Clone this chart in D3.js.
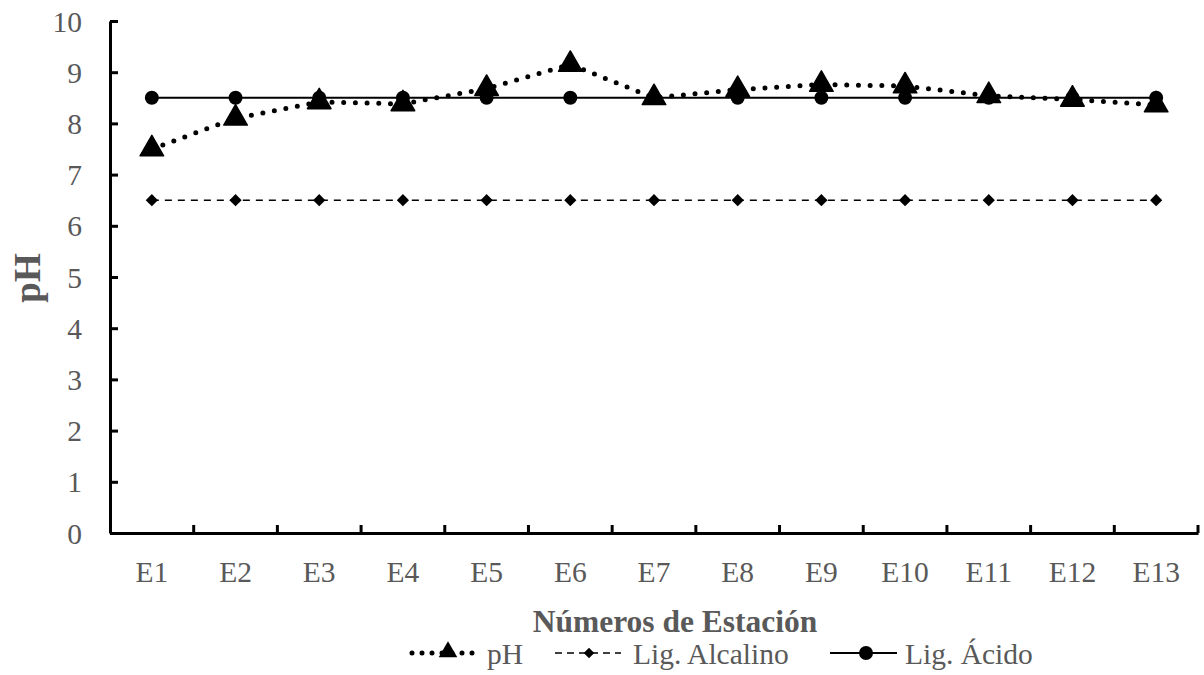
<!DOCTYPE html>
<html><head><meta charset="utf-8">
<script src="https://cdn.jsdelivr.net/npm/d3@7"></script>
<style>body{margin:0;background:#fff}svg{display:block}</style>
</head><body>
<svg id="c" width="1204" height="675"></svg>
<script>
const categories = ["E1","E2","E3","E4","E5","E6","E7","E8","E9","E10","E11","E12","E13"];
const phValues = [7.5, 8.1, 8.42, 8.38, 8.68, 9.15, 8.5, 8.66, 8.76, 8.73, 8.54, 8.47, 8.36];
const alcalinoValues = [6.5,6.5,6.5,6.5,6.5,6.5,6.5,6.5,6.5,6.5,6.5,6.5,6.5];
const acidoValues = [8.5,8.5,8.5,8.5,8.5,8.5,8.5,8.5,8.5,8.5,8.5,8.5,8.5];
const yTicks = [0,1,2,3,4,5,6,7,8,9,10];
const seriesNames = ["pH","Lig. Alcalino","Lig. Ácido"];
const xTitle = "Números de Estación";
const yTitle = "pH";

const svg = d3.select("#c");
const FONT = "'Liberation Serif','Times New Roman',serif";
const TXT = "#595959";
const L = 110, R = 1198, T = 21, B = 533;
const x = d3.scaleBand().domain(categories).range([L, R]).padding(0);
const y = d3.scaleLinear().domain([0, 10]).range([B, T]);
const cx = c => x(c) + x.bandwidth() / 2;

// Y axis
const ya = svg.append("g").attr("transform", `translate(${L},0)`)
  .call(d3.axisLeft(y).tickValues(yTicks).tickSizeInner(-8).tickSizeOuter(0).tickPadding(28).tickFormat(d3.format("d")));
ya.select(".domain").attr("stroke", "#000").attr("stroke-width", 3);
ya.selectAll(".tick line").attr("stroke", "#000").attr("stroke-width", 3);
ya.selectAll(".tick text").attr("font-family", FONT).attr("font-size", 29.5).attr("fill", TXT).attr("dy", "0.34em");

// X axis
const xa = svg.append("g").attr("transform", `translate(0,${B})`)
  .call(d3.axisBottom(x).tickSize(0).tickPadding(0));
xa.select(".domain").attr("stroke", "#000").attr("stroke-width", 3);
xa.selectAll(".tick text").attr("font-family", FONT).attr("font-size", 29.5).attr("fill", TXT)
  .attr("y", 49).attr("dy", 0);
const bounds = categories.slice(1).map(c => x(c)).concat([R]);
xa.selectAll(".btick").data(bounds).join("line").attr("class", "btick")
  .attr("x1", d => d).attr("x2", d => d).attr("y1", 0).attr("y2", -8)
  .attr("stroke", "#000").attr("stroke-width", 3);

// Titles
svg.append("text").attr("x", 675).attr("y", 632).attr("text-anchor", "middle")
  .attr("font-family", FONT).attr("font-weight", "bold").attr("font-size", 31.5).attr("fill", TXT).text(xTitle);
svg.append("text").attr("transform", "translate(40,278) rotate(-90)").attr("text-anchor", "middle")
  .attr("font-family", FONT).attr("font-weight", "bold").attr("font-size", 37).attr("fill", TXT).text(yTitle);

const line = d3.line().x((d, i) => cx(categories[i])).y(d => y(d));

// Lig. Alcalino
svg.append("path").datum(alcalinoValues).attr("d", line).attr("fill", "none")
  .attr("stroke", "#000").attr("stroke-width", 1.5).attr("stroke-dasharray", "7 6");
svg.selectAll(".dia").data(alcalinoValues).join("path").attr("class", "dia")
  .attr("transform", (d, i) => `translate(${cx(categories[i])},${y(d)})`)
  .attr("d", d3.symbol(d3.symbolDiamond2, 95)).attr("fill", "#000");

// Lig. Acido
svg.append("path").datum(acidoValues).attr("d", line).attr("fill", "none")
  .attr("stroke", "#000").attr("stroke-width", 2);
svg.selectAll(".cir").data(acidoValues).join("circle").attr("class", "cir")
  .attr("cx", (d, i) => cx(categories[i])).attr("cy", d => y(d)).attr("r", 7).attr("fill", "#000");

// pH
svg.append("path").datum(phValues).attr("d", line).attr("fill", "none")
  .attr("stroke", "#000").attr("stroke-width", 5).attr("stroke-linecap", "round").attr("stroke-dasharray", "0 11.7");
svg.selectAll(".tri").data(phValues).join("path").attr("class", "tri")
  .attr("transform", (d, i) => `translate(${cx(categories[i])},${y(d)})`)
  .attr("d", d3.symbol(d3.symbolTriangle, 240)).attr("fill", "#000").attr("stroke", "#000").attr("stroke-width", 1.5).attr("stroke-linejoin", "round");

// Legend
const ly = 653, lty = 664;
const lg = svg.append("g");
lg.append("line").attr("x1", 412).attr("x2", 478).attr("y1", ly).attr("y2", ly)
  .attr("stroke", "#000").attr("stroke-width", 5).attr("stroke-linecap", "round").attr("stroke-dasharray", "0 10");
lg.append("path").attr("transform", `translate(448,${ly-1})`).attr("d", d3.symbol(d3.symbolTriangle, 150)).attr("fill", "#000");
lg.append("text").attr("x", 487).attr("y", lty).attr("font-family", FONT).attr("font-size", 29.5).attr("fill", TXT).text(seriesNames[0]);
lg.append("line").attr("x1", 555).attr("x2", 621).attr("y1", ly).attr("y2", ly)
  .attr("stroke", "#000").attr("stroke-width", 1.5).attr("stroke-dasharray", "7 5");
lg.append("path").attr("transform", `translate(589,${ly})`).attr("d", d3.symbol(d3.symbolDiamond2, 70)).attr("fill", "#000");
lg.append("text").attr("x", 633).attr("y", lty).attr("font-family", FONT).attr("font-size", 29.5).attr("fill", TXT).text(seriesNames[1]);
lg.append("line").attr("x1", 830).attr("x2", 897).attr("y1", ly).attr("y2", ly)
  .attr("stroke", "#000").attr("stroke-width", 2);
lg.append("circle").attr("cx", 866).attr("cy", ly).attr("r", 7).attr("fill", "#000");
lg.append("text").attr("x", 905).attr("y", lty).attr("font-family", FONT).attr("font-size", 29.5).attr("fill", TXT).text(seriesNames[2]);
</script>
</body></html>
